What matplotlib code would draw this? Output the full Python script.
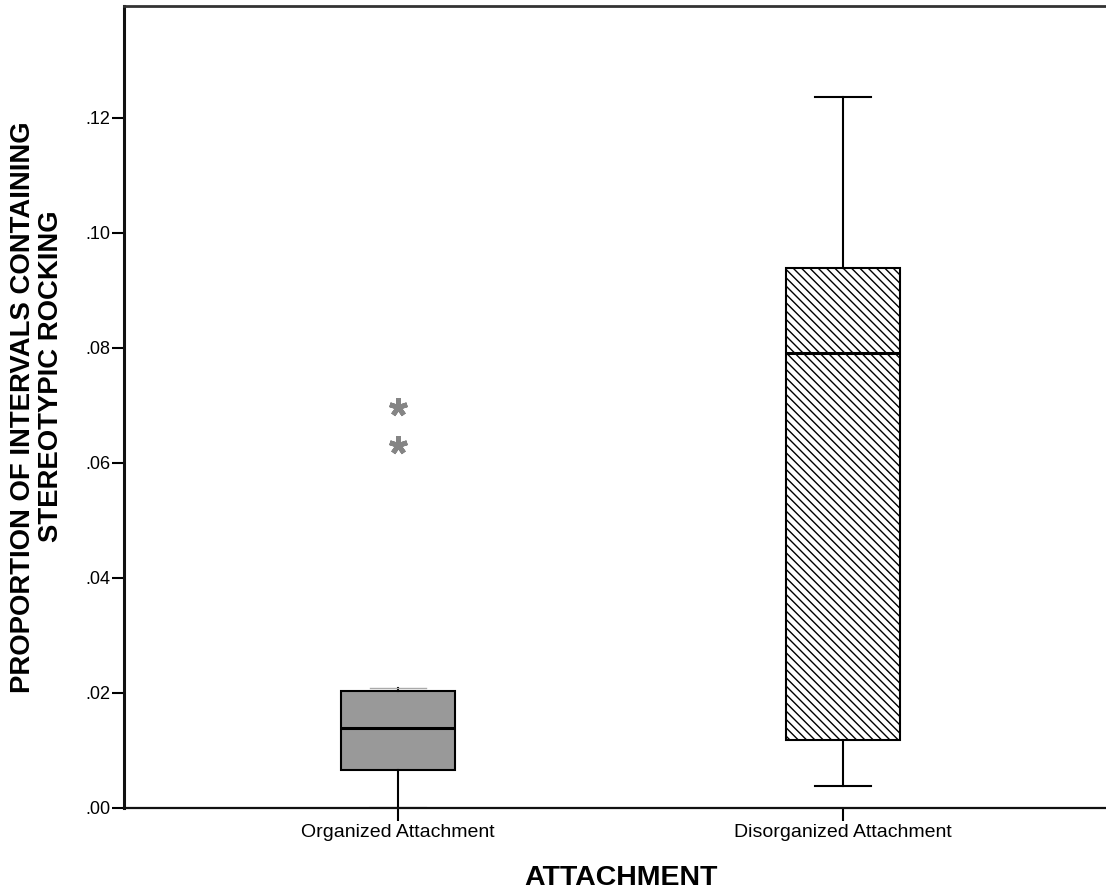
import matplotlib
matplotlib.use("Agg")
import matplotlib.pyplot as plt
from matplotlib.ticker import FuncFormatter, FixedLocator

plt.rcParams['font.family'] = ['Liberation Sans', 'DejaVu Sans']
plt.rcParams['hatch.linewidth'] = 1.0

categories = ["Organized Attachment", "Disorganized Attachment"]
q1 = [0.0066, 0.0117]
median = [0.0138, 0.0790]
q3 = [0.0203, 0.0939]
whisker_low = [0.0, 0.0037]
whisker_high = [0.0207, 0.1235]
outliers = [[0.0696, 0.0630], []]
yticks = [0.00, 0.02, 0.04, 0.06, 0.08, 0.10, 0.12]

fig = plt.figure(figsize=(11.06, 8.90), dpi=100)
ax = fig.add_axes([124/1106, 82.5/890, (1117-124)/1106, (807.5-6)/890])

stats = []
for i, c in enumerate(categories):
    stats.append(dict(label=c, q1=q1[i], med=median[i], q3=q3[i],
                      whislo=whisker_low[i], whishi=whisker_high[i], fliers=[]))

positions = [1, 2]
bp = ax.bxp(stats, positions=positions, widths=0.254, patch_artist=True,
            showfliers=False, manage_ticks=False,
            boxprops=dict(linewidth=1.5, edgecolor='black'),
            medianprops=dict(color='black', linewidth=2.2),
            whiskerprops=dict(color='black', linewidth=1.5),
            capprops=dict(color='black', linewidth=1.5),
            capwidths=0.124)
bp['boxes'][0].set_facecolor('#999999')
bp['boxes'][1].set_facecolor('white')
bp['boxes'][1].set_hatch('\\\\\\\\')
bp['caps'][1].set_color('#aaaaaa')
bp['caps'][1].set_linewidth(1.0)

for p, vals in zip(positions, outliers):
    if vals:
        ax.plot([p]*len(vals), vals, linestyle='none', marker=(5, 2, 0),
                markersize=13, markeredgewidth=3.5, color='#858585', zorder=5)

ax.set_xlim(0.3843, 2.6157)
ax.set_ylim(0, 0.1394)
ax.yaxis.set_major_locator(FixedLocator(yticks))
ax.yaxis.set_major_formatter(FuncFormatter(lambda v, p: f"{v:.2f}".lstrip('0') if v >= 0 else f"{v:.2f}"))
ax.set_xticks(positions)
ax.set_xticklabels(categories)

ax.spines['right'].set_visible(False)
for s in ['left', 'bottom']:
    ax.spines[s].set_color('#111111')
ax.spines['left'].set_linewidth(2.2)
ax.spines['bottom'].set_linewidth(1.6)
ax.spines['top'].set_linewidth(2.0)
ax.spines['top'].set_color('#333333')

ax.tick_params(axis='y', direction='out', length=8.5, width=1.5, labelsize=13, pad=1.5, colors='black')
ax.tick_params(axis='x', direction='out', length=9, width=1.5, labelsize=14, pad=3, colors='black')

ax.set_xlabel("ATTACHMENT", fontsize=20.5, fontweight='bold', labelpad=17)

fig.text(23/1106, 1 - 407.5/890, "PROPORTION OF INTERVALS CONTAINING", rotation=90,
         fontsize=19.8, fontweight='bold', ha='center', va='center')
fig.text(51/1106, 1 - 376.5/890, "STEREOTYPIC ROCKING", rotation=90,
         fontsize=19.8, fontweight='bold', ha='center', va='center')

fig.savefig("out.png", dpi=100)
